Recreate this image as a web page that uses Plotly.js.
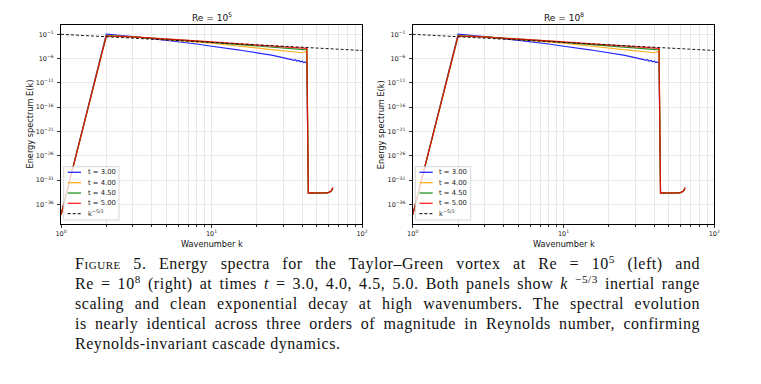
<!DOCTYPE html>
<html><head><meta charset="utf-8">
<script src="https://cdn.plot.ly/plotly-3.0.1.min.js"></script>
<style>
html,body{margin:0;padding:0;background:#fff;}
#wrap{position:relative;width:761px;height:384px;overflow:hidden;background:#fff;}
#plot{position:absolute;left:0;top:0;width:761px;height:384px;}
#cap{position:absolute;left:75px;top:254px;width:625px;font-family:"Liberation Serif",serif;font-size:16px;line-height:20px;color:#111;letter-spacing:0.55px;z-index:5;}
#cap div{text-align:justify;text-align-last:justify;white-space:nowrap;}
#cap div.last{text-align-last:left;}
#cap sup{font-size:70%;line-height:0;vertical-align:0.55em;}
.sc{font-variant:small-caps;}
</style>
</head><body>
<div id="wrap">
<div id="plot"></div>
<div id="cap">
<div><span class="sc">Figure</span> 5. Energy spectra for the Taylor–Green vortex at Re = 10<sup>5</sup> (left) and</div>
<div>Re = 10<sup>8</sup> (right) at times <i>t</i> = 3.0, 4.0, 4.5, 5.0. Both panels show <i>k</i> <sup>−5/3</sup> inertial range</div>
<div>scaling and clean exponential decay at high wavenumbers. The spectral evolution</div>
<div>is nearly identical across three orders of magnitude in Reynolds number, confirming</div>
<div class="last">Reynolds-invariant cascade dynamics.</div>
</div>
</div>
<script>
// ---------------- data ----------------
const wavenumbers = [1,2,3,4,5,6,7,8,9,10,11,12,13,14,15,16,17,18,19,20,21,22,23,24,25,26,27,28,29,30,31,32,33,34,35,36,37,38,39,40,41,42,43,44,45,46,47,48,49,50,51,52,53,54,55,56,57,58,59,60,61,62,63,64];

// log10 E(k)
const logE_t300 = [-38.2,-0.95,-1.45,-1.88,-2.22,-2.50,-2.76,-3.00,-3.25,-3.48,
 -3.66,-3.83,-3.98,-4.10,-4.22,-4.33,-4.44,-4.55,-4.66,-4.77,
 -4.88,-4.98,-5.08,-5.18,-5.28,-5.38,-5.48,-5.58,-5.68,-5.79,
 -5.90,-6.00,-6.10,-6.20,-6.36,-6.24,-6.50,-6.38,-6.66,-6.52,
 -6.84,-6.70,-6.95,
 -33.68,-33.70,-33.67,-33.64,-33.70,-33.69,-33.66,-33.67,-33.68,-33.69,-33.67,-33.66,-33.65,-33.65,-33.63,-33.63,-33.57,-33.49,-33.37,-33.10,-32.62];
const logE_t400 = [-38.2,-1.22,-1.52,-1.79,-2.02,-2.22,-2.39,-2.55,-2.70,-2.84,
 -2.96,-3.07,-3.18,-3.28,-3.37,-3.46,-3.55,-3.63,-3.71,-3.79,
 -3.86,-3.93,-4.00,-4.07,-4.13,-4.19,-4.25,-4.31,-4.37,-4.42,
 -4.48,-4.53,-4.58,-4.63,-4.68,-4.73,-4.77,-4.82,-4.85,-4.80,
 -4.70,-4.55,-4.40,
 -33.74,-33.64,-33.69,-33.65,-33.66,-33.72,-33.66,-33.68,-33.64,-33.71,-33.65,-33.68,-33.63,-33.67,-33.61,-33.65,-33.57,-33.47,-33.35,-33.06,-32.58];
const logE_t450 = [-38.2,-1.30,-1.54,-1.76,-1.96,-2.13,-2.28,-2.42,-2.55,-2.67,
 -2.76,-2.85,-2.94,-3.02,-3.09,-3.16,-3.23,-3.30,-3.36,-3.42,
 -3.48,-3.53,-3.58,-3.63,-3.68,-3.72,-3.77,-3.81,-3.85,-3.89,
 -3.93,-3.97,-4.01,-4.05,-4.09,-4.04,-4.14,-4.10,-4.18,-4.12,
 -4.16,-4.08,-4.02,
 -33.70,-33.68,-33.66,-33.63,-33.71,-33.70,-33.65,-33.68,-33.69,-33.70,-33.66,-33.67,-33.64,-33.66,-33.62,-33.64,-33.56,-33.48,-33.36,-33.08,-32.60];
const logE_t500 = [-38.2,-1.35,-1.55,-1.75,-1.93,-2.08,-2.21,-2.34,-2.46,-2.56,
 -2.64,-2.72,-2.80,-2.87,-2.93,-2.99,-3.05,-3.11,-3.16,-3.21,
 -3.25,-3.30,-3.34,-3.38,-3.42,-3.45,-3.49,-3.52,-3.55,-3.58,
 -3.61,-3.64,-3.67,-3.70,-3.72,-3.75,-3.77,-3.80,-3.82,-3.84,
 -3.86,-3.88,-3.90,
 -33.72,-33.66,-33.70,-33.61,-33.68,-33.74,-33.63,-33.70,-33.66,-33.72,-33.64,-33.69,-33.62,-33.68,-33.60,-33.66,-33.55,-33.46,-33.34,-33.05,-32.55];

const seriesLabels = ['t = 3.00','t = 4.00','t = 4.50','t = 5.00'];
const seriesColors = ['#0000ff','#ffa500','#008000','#ff0000'];
const seriesLogE = [logE_t300, logE_t400, logE_t450, logE_t500];

const refK = [1, 100];
const refAmp = 0.1, refSlope = -5/3;
const refLabel = 'k<sup>−5/3</sup>';

const panelTitles = ['Re = 10<sup>5</sup>', 'Re = 10<sup>8</sup>'];
const xTickVals = [1, 10, 100];
const xTickText = ['10<sup>0</sup>','10<sup>1</sup>','10<sup>2</sup>'];
const xMinorVals = [2,3,4,5,6,7,8,9,20,30,40,50,60,70,80,90];
const yTickVals = [1e-36,1e-31,1e-26,1e-21,1e-16,1e-11,1e-6,1e-1];
const yTickText = ['10<sup>−36</sup>','10<sup>−31</sup>','10<sup>−26</sup>','10<sup>−21</sup>','10<sup>−16</sup>','10<sup>−11</sup>','10<sup>−6</sup>','10<sup>−1</sup>'];

// ---------------- layout helpers ----------------
const W = 761, H = 384;
const px = p => p / W, py = p => 1 - p / H;
const FONT = 'DejaVu Sans, sans-serif';
const plotTop = 25, plotBot = 224;
const panels = [
  {xa:'x',  ya:'y',  x0:61,    x1:362,   ytx:29},
  {xa:'x2', ya:'y2', x0:412.7, x1:714.3, ytx:380.7}
];

const traces = [];
const annotations = [];
const shapes = [];

panels.forEach((p, pi) => {
  seriesLogE.forEach((arr, si) => {
    traces.push({
      x: wavenumbers, y: arr.map(v => Math.pow(10, v)),
      type:'scatter', mode:'lines', xaxis:p.xa, yaxis:p.ya,
      line:{color:seriesColors[si], width:1.2}, opacity:0.85,
      name: seriesLabels[si], showlegend:false, hoverinfo:'skip'
    });
  });
  traces.push({
    x: refK, y: refK.map(k => refAmp * Math.pow(k, refSlope)),
    type:'scatter', mode:'lines', xaxis:p.xa, yaxis:p.ya,
    line:{color:'#000', width:0.9, dash:'3px,2px'},
    name:'k^-5/3', showlegend:false, hoverinfo:'skip'
  });

  const cx = (p.x0 + p.x1) / 2;
  annotations.push({xref:'paper', yref:'paper', x:px(cx), y:py(16.7), xanchor:'center', yanchor:'middle',
    text:panelTitles[pi], showarrow:false, font:{family:FONT, size:9, color:'#111'}});
  annotations.push({xref:'paper', yref:'paper', x:px(cx), y:py(243.5), xanchor:'center', yanchor:'middle',
    text:'Wavenumber k', showarrow:false, font:{family:FONT, size:8.2, color:'#111'}});
  annotations.push({xref:'paper', yref:'paper', x:px(p.ytx), y:py((plotTop+plotBot)/2), xanchor:'center', yanchor:'middle',
    text:'Energy spectrum E(k)', textangle:-90, showarrow:false, font:{family:FONT, size:8.2, color:'#111'}});

  // legend box
  const lx = p.x0 + 2.7;
  shapes.push({type:'rect', xref:'paper', yref:'paper', x0:px(lx), x1:px(lx+55.3), y0:py(166.7), y1:py(220),
    fillcolor:'rgba(255,255,255,0.8)', line:{color:'#cccccc', width:0.8}, layer:'above'});
  const rows = [172.3, 182.7, 193, 203.3, 213.7];
  const labels = seriesLabels.concat([refLabel]);
  const colors = seriesColors.concat(['#000']);
  rows.forEach((ry, ri) => {
    shapes.push({type:'line', xref:'paper', yref:'paper', x0:px(lx+4), x1:px(lx+17.3), y0:py(ry), y1:py(ry),
      line:{color:colors[ri], width: ri===4 ? 1 : 1.3, dash: ri===4 ? '3px,2px' : 'solid'},
      opacity: ri===4 ? 1 : 0.85, layer:'above'});
    annotations.push({xref:'paper', yref:'paper', x:px(lx+22), y:py(ry), xanchor:'left', yanchor:'middle',
      text:labels[ri], showarrow:false, font:{family:FONT, size:6.8, color:'#222'}});
  });
});

const axCommon = {
  type:'log', showline:true, linecolor:'#000', linewidth:1, mirror:true,
  ticks:'outside', ticklen:3, tickwidth:0.8, tickcolor:'#000',
  showgrid:true, gridcolor:'#e4e4e4', gridwidth:0.8, zeroline:false,
  tickfont:{family:FONT, size:6.5, color:'#222'}
};
const xAx = dom => Object.assign({}, axCommon, {
  domain:dom, range:[0, 2], tickmode:'array', tickvals:xTickVals, ticktext:xTickText,
  minor:{tickmode:'array', tickvals:xMinorVals, showgrid:true, gridcolor:'#e4e4e4', gridwidth:0.8, ticks:'outside', ticklen:2, tickcolor:'#000'}
});
const yAx = () => Object.assign({}, axCommon, {
  domain:[py(plotBot), py(plotTop)], range:[-40.06, 0.915], tickmode:'array', tickvals:yTickVals, ticktext:yTickText,
  ticklabelstandoff:2
});

const layout = {
  width:W, height:H, margin:{l:0, r:0, t:0, b:0},
  paper_bgcolor:'#fff', plot_bgcolor:'#fff', showlegend:false,
  xaxis: Object.assign(xAx([px(61), px(362)]), {anchor:'y'}),
  yaxis: Object.assign(yAx(), {anchor:'x'}),
  xaxis2: Object.assign(xAx([px(412.7), px(714.3)]), {anchor:'y2'}),
  yaxis2: Object.assign(yAx(), {anchor:'x2'}),
  annotations: annotations, shapes: shapes
};

Plotly.newPlot('plot', traces, layout, {staticPlot:true, displayModeBar:false});
</script>
</body></html>
